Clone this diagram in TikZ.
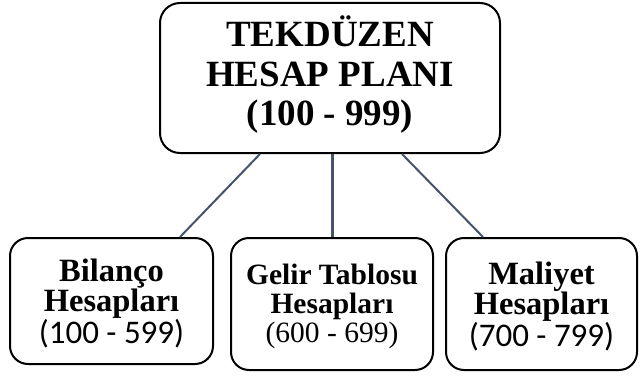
\documentclass[tikz,border=0pt]{standalone}
\usepackage{fontspec}
\setmainfont{Liberation Serif}
\newfontfamily\calfont{Carlito}
\definecolor{linkcol}{HTML}{44546A}
\tikzset{
  topbox/.style={draw=black, line width=2pt, rounded corners=20pt, inner sep=0pt,
    minimum width=340pt, minimum height=150pt, align=center,
    font=\fontsize{37}{39.5}\selectfont\bfseries},
  subbox/.style={draw=black, line width=2pt, rounded corners=18pt, inner sep=0pt,
    align=center, font=\fontsize{32.5}{30.5}\selectfont\bfseries},
  midbox/.style={subbox, font=\fontsize{29.5}{29}\selectfont\bfseries},
  link/.style={draw=linkcol, line width=2pt},
  thicklink/.style={draw=linkcol, line width=3pt}
}
\newcommand\calnum[1]{{\fontsize{33}{30}\selectfont\mdseries\calfont #1}}
\newcommand\sernum[1]{{\fontsize{29.5}{29}\selectfont\mdseries #1}}
\newcommand\lowstrut[1]{\rule[-#1]{0pt}{0pt}}
\newcommand\highstrut[1]{\rule{0pt}{#1}}
\begin{document}
\begin{tikzpicture}[x=1pt,y=1pt]
\useasboundingbox (0,0) rectangle (642,376);
\node[topbox] (top) at (330,298) {TEKDÜZEN\\HESAP PLANI\\(100 - 999)\lowstrut{14pt}};
\node[subbox, minimum width=203pt, minimum height=126pt] (bil) at (111.5,75)
  {\highstrut{28pt}Bilanço\\Hesapları\\\calnum{(100 - 599)}};
\node[midbox, minimum width=202pt, minimum height=132pt] (gel) at (332,72)
  {\highstrut{26pt}Gelir Tablosu\\Hesapları\\\sernum{(600 - 699)}};
\node[subbox, minimum width=191pt, minimum height=132pt] (mal) at (541.5,72)
  {\highstrut{28pt}Maliyet\\Hesapları\\\calnum{(700 - 799)}};
\draw[link] ([xshift=-70pt]top.south) -- ([xshift=68.5pt]bil.north);
\draw[thicklink] ([xshift=2pt]top.south) -- (gel.north);
\draw[link] ([xshift=72pt]top.south) -- ([xshift=-58.5pt]mal.north);
\end{tikzpicture}
\end{document}
